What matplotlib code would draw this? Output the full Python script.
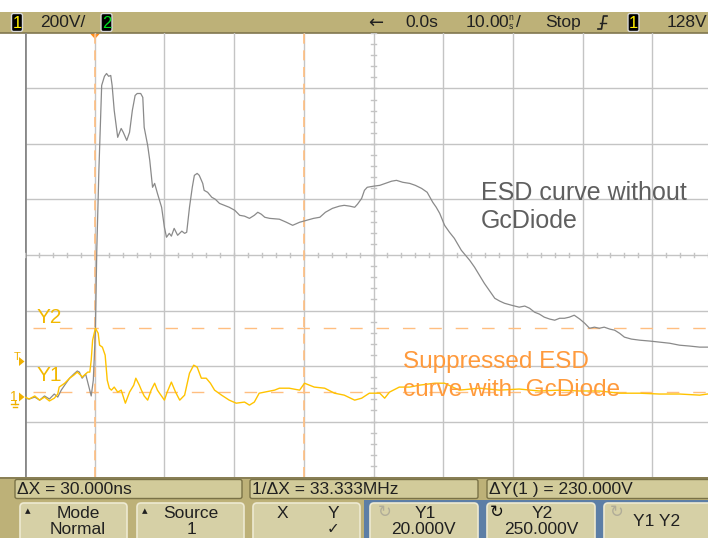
import matplotlib
matplotlib.use('Agg')
import matplotlib.pyplot as plt
from matplotlib.patches import FancyBboxPatch, Rectangle, Polygon

plt.rcParams['font.family'] = ['Liberation Sans Narrow', 'Liberation Sans', 'DejaVu Sans']
plt.rcParams['mathtext.fontset'] = 'custom'
plt.rcParams['mathtext.rm'] = 'Liberation Sans'

# scope setup
volts_per_div = 200
ns_per_div = 10
v_top = 1312
v_bottom = v_top - 8 * volts_per_div
t_left = -50
t_right = 50

# ESD curve without GcDiode (ns, V)
esd_t = [-50.0, -49.4, -48.6, -47.9, -47.2, -46.5, -45.8, -45.3, -44.8, -44.2, -43.6, -43.0,
         -42.5, -42.2, -41.8, -41.3, -40.9, -40.5, -40.2, -39.9, -39.7, -39.4, -39.0, -38.6,
         -38.3, -38.0, -37.7, -37.5, -37.2, -36.7, -36.2, -35.9, -35.4, -35.0, -34.6, -34.2,
         -33.9, -33.4, -33.1, -32.9, -32.4, -32.1, -31.7, -31.4, -31.0, -30.4, -30.0, -29.7,
         -29.3, -29.0, -28.6, -28.1, -27.5, -27.1, -26.8, -26.4, -26.0, -25.7, -25.3, -25.0,
         -24.5, -24.3, -23.8, -23.2, -22.7, -22.1, -21.4, -20.7, -19.9, -19.2, -18.5, -17.8,
         -17.1, -16.6, -16.1, -15.6, -14.9, -13.5, -12.5, -11.6, -10.6, -9.6, -8.6, -7.7,
         -6.9, -5.9, -4.9, -4.2, -3.4, -2.7, -2.3, -1.7, -1.3, -0.9, 0.0, 0.9, 1.7, 2.6,
         3.3, 4.2, 5.2, 6.0, 6.9, 7.7, 8.5, 9.0, 9.5, 10.2, 10.9, 11.6, 12.6, 13.2, 13.8,
         14.5, 15.2, 15.9, 16.6, 17.4, 18.1, 18.8, 19.8, 20.9, 21.7, 22.4, 23.1, 23.8, 24.5,
         25.3, 26.0, 26.7, 27.4, 28.1, 28.8, 29.6, 30.3, 31.0, 31.7, 32.4, 33.1, 33.9, 34.6,
         35.3, 36.0, 37.0, 38.2, 39.6, 41.0, 42.5, 43.9, 45.3, 46.8, 47.9]
esd_v = [-4, -7, 0, -11, 4, -7, 11, 0, 25, 47, 68, 83,
         94, 90, 68, 83, 43, 4, 61, 241, 529, 817, 1123, 1156,
         1166, 1156, 1159, 1123, 1033, 936, 968, 954, 925, 954, 1033, 1087,
         1094, 1094, 1080, 972, 907, 853, 756, 770, 734, 684, 612, 576,
         590, 580, 608, 583, 598, 590, 594, 684, 756, 799, 806, 799,
         770, 745, 738, 720, 713, 698, 691, 684, 673, 655, 652, 644,
         655, 666, 659, 648, 644, 641, 630, 619, 630, 637, 644, 648,
         666, 680, 688, 691, 688, 684, 695, 716, 745, 756, 760, 763, 770, 778,
         781, 774, 770, 763, 752, 738, 702, 684, 662, 619, 594, 572, 529, 511, 493,
         468, 439, 410, 385, 356, 346, 338, 331, 324, 328, 320, 306, 299, 288,
         281, 277, 284, 284, 288, 295, 281, 266, 248, 252, 248, 252, 245, 241,
         230, 216, 209, 205, 202, 198, 194, 187, 184, 180, 180]

# Suppressed ESD curve with GcDiode (ns, V)
sup_t = [-50.0, -49.4, -48.6, -47.9, -47.2, -46.5, -45.8, -45.3, -45.1, -44.3, -43.6, -43.0,
         -42.5, -41.9, -41.8, -41.0, -40.7, -40.5, -40.3, -39.9, -39.5, -39.3, -38.9, -38.5,
         -38.2, -37.9, -37.6, -37.2, -36.7, -36.2, -35.6, -35.0, -34.4, -34.1, -33.6, -33.3,
         -32.9, -32.4, -31.9, -31.4, -31.0, -30.7, -30.0, -29.6, -29.0, -28.4, -27.8, -27.1,
         -26.4, -25.8, -25.3, -24.7, -24.0, -23.4, -22.8, -21.8, -20.7, -19.7, -18.5, -17.8,
         -17.1, -16.4, -15.6, -14.2, -13.5, -12.1, -10.6, -9.9, -8.5, -7.0, -5.6, -4.2,
         -2.7, -1.7, -0.6, 0.9, 1.6, 2.3, 3.7, 5.2, 6.6, 8.8, 10.2, 12.3, 15.2, 18.1,
         20.9, 23.8, 26.7, 29.6, 32.4, 35.3, 38.2, 41.0, 43.9, 46.8, 47.9]
sup_v = [0, -7, 4, -11, 0, -14, -4, 11, 36, 50, 68, 79,
         90, 76, 72, 90, 90, 133, 205, 248, 230, 187, 180, 151,
         61, 32, 25, 36, 18, 25, -22, 18, 43, 68, 43, 25,
         4, -11, 25, 50, 25, 14, -11, 18, 54, 18, -11, 7,
         86, 115, 108, 68, 68, 50, 25, 7, -11, -22, -18, -29,
         -18, 14, 18, 25, 32, 32, 25, 50, 36, 32, 14, 7,
         -11, -4, 14, 14, -4, 18, 36, 36, 43, 50, 50, 25, 32, 25,
         29, 22, 25, 22, 22, 14, 14, 11, 11, 7, 11]

# cursors and trigger
x1_cursor = -40
x2_cursor = -10
y1_cursor = 20
y2_cursor = 250

fig = plt.figure(figsize=(7.08, 5.38), dpi=100)
fig.patch.set_facecolor('white')

# screen furniture, pixel coordinates
ui = fig.add_axes([0, 0, 1, 1])
ui.set_xlim(0, 708)
ui.set_ylim(538, 0)
ui.axis('off')

tan = '#BDB178'
ui.add_patch(Rectangle((0, 12), 708, 21, fc=tan, ec='none'))
ui.plot([0, 708], [33, 33], color='#80774F', lw=1.2)
ui.add_patch(Rectangle((0, 477), 708, 61, fc=tan, ec='none'))
ui.plot([0, 708], [477.5, 477.5], color='#80774F', lw=1.2)
ui.add_patch(Rectangle((364, 500), 344, 38, fc='#5C7EA6', ec='none'))


def chan_box(x, label, color):
    ui.add_patch(FancyBboxPatch((x, 13.5), 11, 18, boxstyle='round,pad=0,rounding_size=2',
                                fc='black', ec='#D8D8D8', lw=1))
    ui.text(x + 5.5, 23, label, color=color, fontsize=12, ha='center', va='center')


chan_box(11.5, '1', '#FFEE00')
chan_box(101, '2', '#00E020')
chan_box(628, '1', '#FFEE00')
top_txt = dict(fontsize=12.5, color='#202020', va='center')
ui.text(40, 22.5, '200V/', **top_txt)
ui.text(368, 23, '\u2190', fontsize=13, color='#202020', va='center', family='DejaVu Sans')
ui.text(405, 22.5, '0.0s', **top_txt)
ui.text(465, 22.5, r'10.00$\genfrac{}{}{0}{2}{\mathrm{n}}{\mathrm{s}}$/', **top_txt)
ui.text(545, 22.5, 'Stop', **top_txt)
ui.text(667, 22.5, '128V', **top_txt)
ui.plot([598, 601.5, 603.5, 607], [29, 29, 16, 16], color='#202020', lw=1.2)
ui.plot([599.5, 605.5], [23, 23], color='#202020', lw=1.0)

# measurement row
for x0, x1, label in [(15, 242, '\u0394X = 30.000ns'),
                      (250, 478, '1/\u0394X = 33.333MHz'),
                      (487, 712, '\u0394Y(1 ) = 230.000V')]:
    ui.add_patch(FancyBboxPatch((x0, 479.5), x1 - x0, 19, boxstyle='round,pad=0,rounding_size=2',
                                fc='#D2CB9A', ec='#7A7247', lw=1))
    ui.text(x0 + 2, 489.5, label, fontsize=12.5, color='#202020', va='center')

# softkeys
keys = [(20, 127), (137, 244), (253, 360), (370, 478), (487, 595), (604, 715)]
for x0, x1 in keys:
    ui.add_patch(FancyBboxPatch((x0, 503), x1 - x0, 40, boxstyle='round,pad=0,rounding_size=4',
                                fc='#D6D0A6', ec='#EEEAD2', lw=1.2))
sk = dict(fontsize=12.5, color='#202020', ha='center', va='center')
ui.text(28, 511, '\u25b4', fontsize=8, color='#202020', ha='center', va='center', family='DejaVu Sans')
ui.text(78, 513, 'Mode', **sk)
ui.text(78, 529, 'Normal', **sk)
ui.text(145, 511, '\u25b4', fontsize=8, color='#202020', ha='center', va='center', family='DejaVu Sans')
ui.text(191, 513, 'Source', **sk)
ui.text(191, 529, '1', **sk)
ui.text(282, 513, 'X', **sk)
ui.text(333, 513, 'Y', **sk)
ui.text(333, 529, '\u2713', fontsize=11, color='#202020', ha='center', va='center', family='DejaVu Sans')
ui.text(385, 512, '\u21bb', fontsize=12, color='#B0AC98', ha='center', va='center', family='DejaVu Sans')
ui.text(425, 513, 'Y1', **sk)
ui.text(423, 529, '20.000V', **sk)
ui.text(497, 512, '\u21bb', fontsize=12, color='#101010', ha='center', va='center', family='DejaVu Sans')
ui.text(542, 513, 'Y2', **sk)
ui.text(541, 529, '250.000V', **sk)
ui.text(617, 512, '\u21bb', fontsize=12, color='#B0AC98', ha='center', va='center', family='DejaVu Sans')
ui.text(657, 521, 'Y1 Y2', **sk)

# trigger position marker
ui.add_patch(Polygon([[90, 33.5], [100, 33.5], [95, 39]], closed=True, fc='#FF8C1A', ec='none'))

# waveform area
ax = fig.add_axes([25 / 708, 61 / 538, 697 / 708, 444 / 538])
ax.set_facecolor('none')
ax.set_xlim(t_left, t_right)
ax.set_ylim(v_bottom, v_top)
ax.set_xticks([])
ax.set_yticks([])
for s in ax.spines.values():
    s.set_visible(False)

grid_c = '#C4C4C4'
for k in range(1, 10):
    ax.axvline(t_left + k * ns_per_div, color=grid_c, lw=1.0, zorder=1)
for k in range(1, 8):
    ax.axhline(v_bottom + k * volts_per_div, color=grid_c, lw=1.0, zorder=1)
ax.axvline(t_left, color='#888888', lw=2.0, zorder=1)

# minor ticks on the centre lines
v_mid = v_bottom + 4 * volts_per_div
for k in range(41):
    v = v_bottom + k * volts_per_div / 5
    ax.plot([-0.35, 0.35], [v, v], color=grid_c, lw=1.0, zorder=1)
for k in range(51):
    t = t_left + k * ns_per_div / 5
    ax.plot([t, t], [v_mid - 9, v_mid + 9], color=grid_c, lw=1.0, zorder=1)

cur_c = '#FFBE80'
for xc in (x1_cursor, x2_cursor):
    ax.axvline(xc, color=cur_c, lw=1.2, dashes=(6, 4), zorder=2)
for yc in (y1_cursor, y2_cursor):
    ax.plot([-48.8, t_right], [yc, yc], color=cur_c, lw=1.0, dashes=(9, 10), zorder=2)

ax.plot(esd_t, esd_v, color='#8A8A8A', lw=0.9, zorder=3)
ax.plot(sup_t, sup_v, color='#FFC300', lw=1.0, zorder=4)

# labels in screen pixels
px = ui.transData
ax.text(481, 200, 'ESD curve without', transform=px, fontsize=18, color='#5F5F5F',
        family='Liberation Sans', va='baseline', zorder=6)
ax.text(481, 228, 'GcDiode', transform=px, fontsize=18, color='#5F5F5F',
        family='Liberation Sans', va='baseline', zorder=6)
ax.text(403, 368, 'Suppressed ESD', transform=px, fontsize=17.5, color='#FF9A3C',
        family='Liberation Sans', va='baseline', zorder=6)
ax.text(403, 396, 'curve with  GcDiode', transform=px, fontsize=17.5, color='#FF9A3C',
        family='Liberation Sans', va='baseline', zorder=6)
ax.text(37, 323, 'Y2', transform=px, fontsize=15, color='#F2B800', family='Liberation Sans',
        va='baseline', zorder=6)
ax.text(37, 381, 'Y1', transform=px, fontsize=15, color='#F2B800', family='Liberation Sans',
        va='baseline', zorder=6)

mark_c = '#F0B000'
ax.text(17, 357, 'T', transform=px, fontsize=8, color=mark_c, ha='center', va='center', zorder=6)
ax.add_patch(Polygon([[19, 357], [19, 366], [24.5, 361.5]], closed=True, transform=px,
                     fc=mark_c, ec='none', zorder=6, clip_on=False))
ax.text(13.5, 397, '1', transform=px, fontsize=10, color=mark_c, ha='center', va='center', zorder=6)
ax.add_patch(Polygon([[19, 392.5], [19, 401.5], [24.5, 397]], closed=True, transform=px,
                     fc=mark_c, ec='none', zorder=6, clip_on=False))
ax.plot([11, 18], [404, 404], transform=px, color=mark_c, lw=1, clip_on=False)
ax.plot([12.5, 16.5], [406.5, 406.5], transform=px, color=mark_c, lw=1, clip_on=False)
ax.plot([14.5, 14.5], [401, 404], transform=px, color=mark_c, lw=1, clip_on=False)

fig.savefig('out.png', dpi=100, facecolor='white')
